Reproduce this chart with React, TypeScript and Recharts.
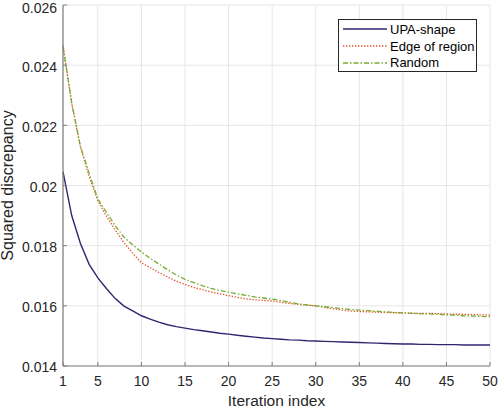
import { CartesianGrid, Line, LineChart, XAxis, YAxis } from "recharts";

const iterations = [
  1, 2, 3, 4, 5, 6, 7, 8, 9, 10, 11, 12, 13, 14, 15, 16, 17, 18, 19, 20, 21, 22, 23, 24, 25,
  26, 27, 28, 29, 30, 31, 32, 33, 34, 35, 36, 37, 38, 39, 40, 41, 42, 43, 44, 45, 46, 47, 48, 49, 50,
];

// UPA-shape
const upaShape = [
  0.02046, 0.019, 0.01807, 0.01738, 0.01693, 0.01657, 0.01624, 0.01599, 0.01583, 0.01567,
  0.01556, 0.01546, 0.01537, 0.01531, 0.01526, 0.01521, 0.01517, 0.01513, 0.01509, 0.01506,
  0.01502, 0.01499, 0.01496, 0.01493, 0.01491, 0.01489, 0.01487, 0.01486, 0.01484, 0.01483,
  0.01482, 0.01481, 0.0148, 0.01479, 0.01478, 0.01477, 0.01476, 0.01475, 0.01474, 0.01473,
  0.01473, 0.01472, 0.01472, 0.01471, 0.01471, 0.01471, 0.0147, 0.0147, 0.0147, 0.0147,
];

// Edge of region
const edgeOfRegion = [
  0.02467, 0.02272, 0.02128, 0.0203, 0.0195, 0.01897, 0.01852, 0.0181, 0.01775, 0.01743,
  0.01727, 0.01711, 0.01696, 0.01682, 0.01671, 0.01661, 0.01654, 0.01646, 0.0164, 0.01634,
  0.01628, 0.01623, 0.0162, 0.01618, 0.01616, 0.01612, 0.01608, 0.01605, 0.01602, 0.016,
  0.01595, 0.0159, 0.01586, 0.01583, 0.01581, 0.0158, 0.01579, 0.01578, 0.01577, 0.01576,
  0.01576, 0.01575, 0.01575, 0.01574, 0.01573, 0.01572, 0.01572, 0.01571, 0.0157, 0.0157,
];

// Random
const randomInit = [
  0.02462, 0.02275, 0.0213, 0.0204, 0.01955, 0.0191, 0.01866, 0.01828, 0.01803, 0.01779,
  0.01758, 0.01739, 0.0172, 0.01703, 0.01688, 0.01677, 0.01667, 0.01658, 0.01651, 0.01645,
  0.0164, 0.01635, 0.0163, 0.01626, 0.01622, 0.01618, 0.01612, 0.01606, 0.01603, 0.016,
  0.01597, 0.01594, 0.01591, 0.01588, 0.01586, 0.01584, 0.01582, 0.0158, 0.01578, 0.01577,
  0.01575, 0.01574, 0.01573, 0.01572, 0.0157, 0.01569, 0.01567, 0.01566, 0.01565, 0.01564,
];

const xTicks = [1, 5, 10, 15, 20, 25, 30, 35, 40, 45, 50];
const yTicks = [0.014, 0.016, 0.018, 0.02, 0.022, 0.024, 0.026];
const yTickLabels = ["0.014", "0.016", "0.018", "0.02", "0.022", "0.024", "0.026"];

const seriesInfo = [
  { key: "upa", name: "UPA-shape", color: "#2f2670", dash: undefined, width: 1.4 },
  { key: "edge", name: "Edge of region", color: "#e4572e", dash: "1.4 1.6", width: 1.3 },
  { key: "random", name: "Random", color: "#77ac30", dash: "5 2 1.5 2", width: 1.3 },
];

const data = iterations.map((it, i) => ({
  iter: it,
  upa: upaShape[i],
  edge: edgeOfRegion[i],
  random: randomInit[i],
}));

const FONT = '"Liberation Sans", Arial, Helvetica, sans-serif';
const TEXT = "#262626";
const AXIS = "#7f7f7f";

const X_MARGIN = 10;
const Y_MARGIN = 6;

// ticks point into the plot like MATLAB's
const XTick = (props: any) => {
  const { x, y, payload } = props;
  const axisY = y - X_MARGIN;
  return (
    <g>
      <line x1={x} x2={x} y1={axisY} y2={axisY - 4} stroke={AXIS} />
      <text x={x} y={y} dy="0.71em" textAnchor="middle" fontSize={14} fill={TEXT} fontFamily={FONT}>
        {payload.value}
      </text>
    </g>
  );
};

const YTick = (props: any) => {
  const { x, y, payload } = props;
  const axisX = x + Y_MARGIN;
  const idx = yTicks.findIndex((t) => Math.abs(t - payload.value) < 1e-9);
  // labels sit a little below their tick; the top one is kept inside the page
  const ty = Math.max(y + 1.5, 8.5);
  return (
    <g>
      <line x1={axisX} x2={axisX + 4} y1={y} y2={y} stroke={AXIS} />
      <text x={x} y={ty} dy="0.355em" textAnchor="end" fontSize={14} fill={TEXT} fontFamily={FONT}>
        {idx >= 0 ? yTickLabels[idx] : payload.value}
      </text>
    </g>
  );
};

const LegendBox = () => (
  <div
    style={{
      position: "absolute",
      left: 338,
      top: 19,
      width: 139,
      height: 53,
      boxSizing: "border-box",
      border: "1px solid #262626",
      background: "#fff",
      paddingTop: 1,
      fontFamily: FONT,
      fontSize: 13,
      color: "#000",
    }}
  >
    {seriesInfo.map((s) => (
      <div key={s.key} style={{ height: 16.7, display: "flex", alignItems: "center" }}>
        <svg width={48} height={10} style={{ marginLeft: 3, flex: "none" }}>
          <line
            x1={1}
            x2={45}
            y1={5}
            y2={5}
            stroke={s.color}
            strokeWidth={s.width}
            strokeDasharray={s.dash}
          />
        </svg>
        <span style={{ whiteSpace: "nowrap" }}>{s.name}</span>
      </div>
    ))}
  </div>
);

export default function App() {
  return (
    <div style={{ position: "absolute", left: 0, top: 0, width: 498, height: 410, background: "#fff" }}>
      <LineChart width={498} height={410} data={data} margin={{ top: 5, right: 8, bottom: 0, left: 0 }}>
        <CartesianGrid stroke="#e6e6e6" strokeWidth={1} />
        <XAxis
          dataKey="iter"
          type="number"
          domain={[1, 50]}
          ticks={xTicks}
          height={44}
          tickSize={0}
          tickMargin={X_MARGIN}
          axisLine={{ stroke: AXIS, strokeWidth: 1.2 }}
          tickLine={false}
          tick={(p: any) => <XTick {...p} />}
          interval={0}
          label={(p: any) => {
            const vb = p.viewBox;
            return (
              <text
                x={vb.x + vb.width / 2}
                y={vb.y + vb.height - 4}
                textAnchor="middle"
                fontSize={15.5}
                fill={TEXT}
                fontFamily={FONT}
              >
                Iteration index
              </text>
            );
          }}
        />
        <YAxis
          type="number"
          domain={[0.014, 0.026]}
          ticks={yTicks}
          width={63}
          tickSize={0}
          tickMargin={Y_MARGIN}
          axisLine={{ stroke: AXIS, strokeWidth: 1.2 }}
          tickLine={false}
          tick={(p: any) => <YTick {...p} />}
          interval={0}
          allowDataOverflow
          label={(p: any) => {
            const vb = p.viewBox;
            const cy = vb.y + vb.height / 2;
            return (
              <text
                transform={`translate(13,${cy}) rotate(-90)`}
                textAnchor="middle"
                fontSize={16}
                fill={TEXT}
                fontFamily={FONT}
              >
                Squared discrepancy
              </text>
            );
          }}
        />
        {seriesInfo.map((s) => (
          <Line
            key={s.key}
            dataKey={s.key}
            name={s.name}
            type="linear"
            stroke={s.color}
            strokeWidth={s.width}
            strokeDasharray={s.dash}
            dot={false}
            activeDot={false}
            isAnimationActive={false}
          />
        ))}
      </LineChart>
      <LegendBox />
    </div>
  );
}
